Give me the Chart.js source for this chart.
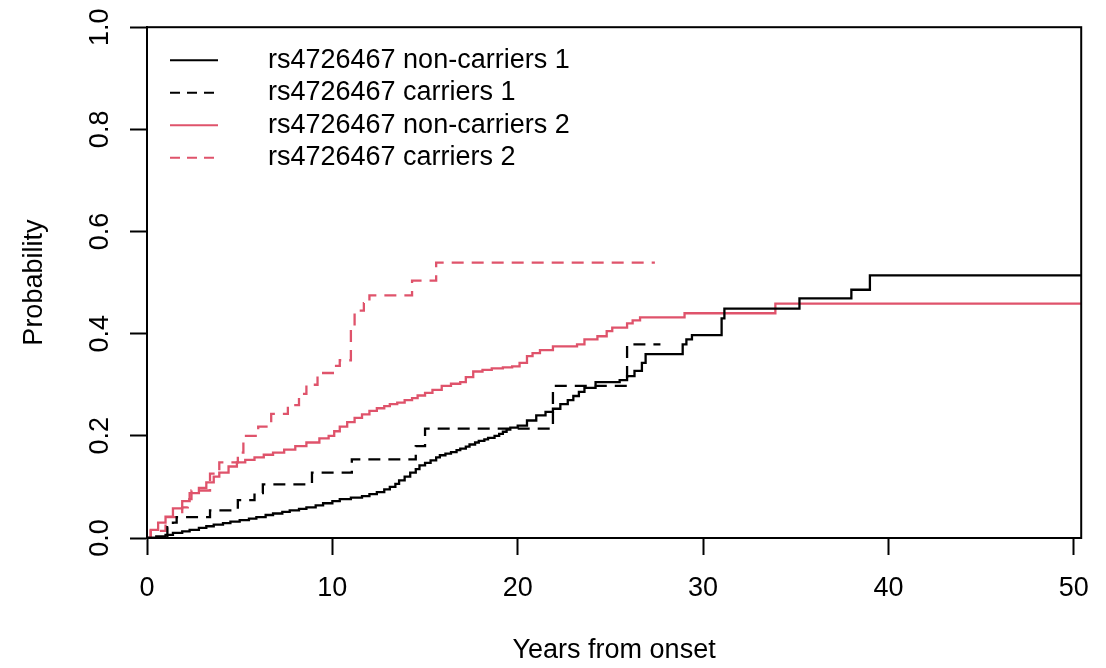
<!DOCTYPE html>
<html>
<head>
<meta charset="utf-8">
<script src="https://cdn.jsdelivr.net/npm/chart.js@4/dist/chart.umd.min.js"></script>
<style>
  html, body { margin: 0; padding: 0; background: #fff; }
  #wrap { width: 1106px; height: 668px; }
</style>
</head>
<body>
<div id="wrap"><canvas id="kmCanvas" width="1106" height="668"></canvas></div>
<script>
// axis ticks
const xTicks = [0, 10, 20, 30, 40, 50];
const yTicks = [0, 0.2, 0.4, 0.6, 0.8, 1.0];

const seriesLabels = [
  "rs4726467 non-carriers 1",
  "rs4726467 carriers 1",
  "rs4726467 non-carriers 2",
  "rs4726467 carriers 2"
];

// non-carriers 1 (black solid)
const nonCarriers1Years = [0, 0.5, 1.0, 1.4, 1.9, 2.3, 2.8, 3.2, 3.6, 4.1, 4.5, 5.0, 5.5, 5.9, 6.4, 6.8, 7.3, 7.7,
  8.2, 8.6, 9.1, 9.5, 10.0, 10.4, 11.0, 11.6, 12.0, 12.4, 12.8, 13.1, 13.4, 13.6, 13.9, 14.2, 14.5, 14.7, 15.0,
  15.3, 15.6, 15.8, 16.1, 16.4, 16.7, 16.9, 17.2, 17.4, 17.7, 17.9, 18.2, 18.4, 18.75, 19.0, 19.2, 19.4, 19.6,
  20.0, 20.5, 21.0, 21.5, 21.9, 22.3, 22.7, 23.0, 23.3, 23.6, 24.2, 25.5, 25.9, 26.3, 26.7, 26.9, 28.9, 29.1,
  29.4, 31.0, 31.15, 35.2, 38.0, 39.0, 50.4];
const nonCarriers1Prob = [0, 0.003, 0.006, 0.01, 0.013, 0.016, 0.02, 0.023, 0.026, 0.029, 0.032, 0.035, 0.038, 0.041,
  0.045, 0.048, 0.051, 0.054, 0.057, 0.06, 0.064, 0.068, 0.072, 0.076, 0.079, 0.082, 0.086, 0.09, 0.095, 0.1,
  0.106, 0.113, 0.12, 0.128, 0.135, 0.142, 0.147, 0.152, 0.158, 0.162, 0.165, 0.168, 0.172, 0.175, 0.179, 0.183,
  0.187, 0.19, 0.193, 0.196, 0.2, 0.204, 0.208, 0.212, 0.216, 0.22, 0.23, 0.24, 0.247, 0.253, 0.262, 0.27, 0.278,
  0.286, 0.294, 0.305, 0.309, 0.317, 0.327, 0.343, 0.36, 0.379, 0.389, 0.397, 0.43, 0.449, 0.469, 0.486, 0.514,
  0.514];

// carriers 1 (black dashed)
const carriers1Years = [0, 1.1, 1.4, 1.6, 3.4, 4.9, 5.8, 6.25, 8.9, 11.05, 14.5, 15.0, 21.9, 25.9, 27.7];
const carriers1Prob  = [0, 0.021, 0.03, 0.041, 0.054, 0.074, 0.088, 0.105, 0.128, 0.154, 0.18, 0.214, 0.298, 0.379, 0.379];

// non-carriers 2 (red solid)
const nonCarriers2Years = [0, 0.2, 0.6, 1.0, 1.4, 1.9, 2.3, 2.8, 3.2, 3.6, 3.9, 4.4, 4.85, 5.3, 5.8, 6.3, 6.8, 7.4,
  8.0, 8.6, 9.3, 9.8, 10.1, 10.4, 10.8, 11.2, 11.6, 12.0, 12.4, 12.8, 13.1, 13.5, 13.9, 14.3, 14.6, 15.0, 15.4,
  15.9, 16.4, 16.9, 17.2, 17.6, 18.1, 18.6, 19.2, 19.7, 20.1, 20.5, 20.8, 21.2, 21.9, 23.2, 23.6, 24.3, 24.8, 25.1,
  25.9, 26.2, 26.6, 29.0, 33.9, 50.4];
const nonCarriers2Prob = [0, 0.016, 0.03, 0.042, 0.058, 0.072, 0.088, 0.098, 0.109, 0.12, 0.128, 0.14, 0.148, 0.153,
  0.158, 0.163, 0.167, 0.173, 0.18, 0.187, 0.195, 0.2, 0.209, 0.218, 0.227, 0.235, 0.242, 0.249, 0.254, 0.258,
  0.262, 0.265, 0.27, 0.274, 0.279, 0.284, 0.29, 0.298, 0.302, 0.305, 0.315, 0.326, 0.329, 0.332, 0.334, 0.336,
  0.343, 0.356, 0.362, 0.368, 0.375, 0.379, 0.389, 0.395, 0.405, 0.412, 0.42, 0.426, 0.432, 0.44, 0.459, 0.459];

// carriers 2 (red dashed)
const carriers2Years = [0, 0.2, 1.0, 1.9, 2.2, 2.4, 3.4, 3.9, 4.9, 5.2, 6.0, 6.7, 7.6, 8.2, 8.6, 9.2, 10.2, 10.4,
  11.0, 11.2, 11.7, 12.0, 14.3, 15.6, 27.4];
const carriers2Prob  = [0, 0.014, 0.041, 0.06, 0.076, 0.093, 0.126, 0.148, 0.167, 0.2, 0.218, 0.243, 0.26, 0.282,
  0.30, 0.323, 0.337, 0.348, 0.41, 0.445, 0.46, 0.475, 0.504, 0.539, 0.539];

const RED = "#DF536B";
const FONT = "'Liberation Sans', Arial, Helvetica, sans-serif";
const txtFont = { family: FONT, size: 27 };

function toPoints(xs, ys) {
  return xs.map((x, i) => ({ x: x, y: ys[i] }));
}

function kmDataset(label, xs, ys, color, dash) {
  return {
    label: label,
    data: toPoints(xs, ys),
    borderColor: color,
    borderWidth: 2.3,
    borderDash: dash,
    stepped: true,
    pointRadius: 0,
    fill: false,
    borderCapStyle: "butt",
    borderJoinStyle: "miter"
  };
}

// box round the plot region
const plotBox = {
  id: "plotBox",
  afterDraw(chart) {
    const { ctx, chartArea: a } = chart;
    ctx.save();
    ctx.strokeStyle = "#000";
    ctx.lineWidth = 2;
    ctx.strokeRect(a.left, a.top, a.right - a.left, a.bottom - a.top);
    ctx.restore();
  }
};

// legend inside the plot, top left
const insetLegend = {
  id: "insetLegend",
  afterDraw(chart) {
    const { ctx, chartArea: a } = chart;
    ctx.save();
    ctx.font = "27px " + FONT;
    ctx.textBaseline = "middle";
    ctx.textAlign = "left";
    chart.data.datasets.forEach((ds, i) => {
      const y = a.top + 33 + i * 32.5;
      ctx.strokeStyle = ds.borderColor;
      ctx.lineWidth = 2;
      ctx.setLineDash(ds.borderDash.length ? [10, 7] : []);
      ctx.beginPath();
      ctx.moveTo(a.left + 23, y);
      ctx.lineTo(a.left + 71, y);
      ctx.stroke();
      ctx.fillStyle = "#000";
      ctx.fillText(ds.label, a.left + 121, y);
    });
    ctx.restore();
  }
};

new Chart(document.getElementById("kmCanvas").getContext("2d"), {
  type: "line",
  data: {
    datasets: [
      kmDataset(seriesLabels[0], nonCarriers1Years, nonCarriers1Prob, "#000000", []),
      kmDataset(seriesLabels[1], carriers1Years, carriers1Prob, "#000000", [12, 8]),
      kmDataset(seriesLabels[2], nonCarriers2Years, nonCarriers2Prob, RED, []),
      kmDataset(seriesLabels[3], carriers2Years, carriers2Prob, RED, [12, 8])
    ]
  },
  options: {
    responsive: false,
    animation: false,
    devicePixelRatio: 1,
    layout: { padding: { top: 24, right: 24, left: 0, bottom: 0 } },
    plugins: {
      legend: { display: false },
      tooltip: { enabled: false }
    },
    scales: {
      x: {
        type: "linear",
        min: 0,
        max: 50.4,
        afterBuildTicks: s => { s.ticks = xTicks.map(v => ({ value: v })); },
        afterFit: s => { s.height = 130; },
        grid: { drawOnChartArea: false, drawTicks: true, tickLength: 17, tickColor: "#000", tickWidth: 2 },
        border: { display: true, color: "#000", width: 2 },
        ticks: { color: "#000", font: txtFont, padding: 17, maxRotation: 0, autoSkip: false },
        title: { display: true, text: "Years from onset", color: "#000", font: txtFont, padding: { top: 0, bottom: 1 } }
      },
      y: {
        type: "linear",
        min: 0,
        max: 1,
        afterBuildTicks: s => { s.ticks = yTicks.map(v => ({ value: v })); },
        afterFit: s => { s.width = 147; },
        grid: { drawOnChartArea: false, drawTicks: true, tickLength: 17, tickColor: "#000", tickWidth: 2 },
        border: { display: true, color: "#000", width: 2 },
        ticks: {
          color: "#000", font: txtFont, padding: 11, autoSkip: false,
          minRotation: 90, maxRotation: 90, crossAlign: "center",
          callback: v => Number(v).toFixed(1)
        },
        title: { display: true, text: "Probability", color: "#000", font: txtFont, padding: { top: 18, bottom: 0 } }
      }
    }
  },
  plugins: [plotBox, insetLegend]
});
</script>
</body>
</html>
